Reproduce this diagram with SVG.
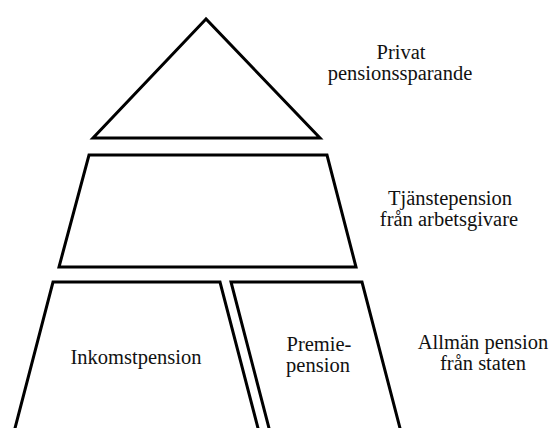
<svg xmlns="http://www.w3.org/2000/svg" width="556" height="428" viewBox="0 0 556 428">
<style>
.s{fill:#fff;stroke:#000;stroke-width:3;stroke-linejoin:miter}
.t{font-family:"Liberation Serif","Times New Roman",serif;font-size:20.5px;fill:#111;text-anchor:middle}
</style>
<rect width="556" height="428" fill="#fff"/>
<g id="privat">
<polygon class="s" points="206,19 93,138 320,138"/>
<text class="t" x="401" y="59">Privat</text>
<text class="t" x="400" y="80">pensionssparande</text>
</g>
<g id="tjanste">
<polygon class="s" points="89,155 327,155 356,267 59,267"/>
<text class="t" x="450" y="205">Tjänstepension</text>
<text class="t" x="449" y="226">från arbetsgivare</text>
</g>
<g id="inkomst">
<path class="s" d="M14,432 L53,282 L220,282 L259,432"/>
<text class="t" x="136" y="364">Inkomstpension</text>
</g>
<g id="premie">
<path class="s" d="M270,432 L231,282 L362,282 L401,432"/>
<text class="t" x="319" y="351">Premie-</text>
<text class="t" x="318" y="372">pension</text>
</g>
<g id="allman">
<text class="t" x="483" y="349">Allmän pension</text>
<text class="t" x="483" y="370">från staten</text>
</g>
<g id="connectors"></g>
</svg>
